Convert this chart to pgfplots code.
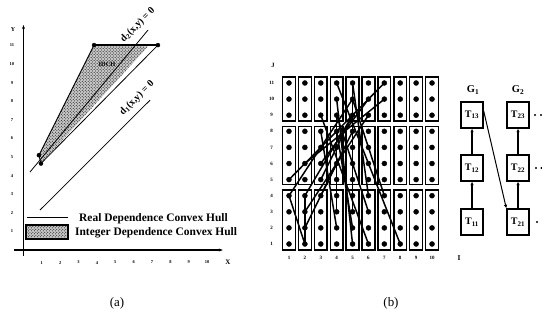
\documentclass[border=0pt]{standalone}
\usepackage{fontspec}
\setmainfont{Liberation Serif}
\usepackage{pgfplots}
\pgfplotsset{compat=1.18}
\usetikzlibrary{patterns,arrows.meta}
\pgfdeclareplotmark{boxlow}{\pgfpathrectangle{\pgfpoint{-6.4bp}{-30bp}}{\pgfpoint{12.8bp}{60bp}}\pgfusepath{stroke}}
\pgfdeclareplotmark{boxmid}{\pgfpathrectangle{\pgfpoint{-6.4bp}{-29bp}}{\pgfpoint{12.8bp}{58bp}}\pgfusepath{stroke}}
\pgfdeclareplotmark{boxtop}{\pgfpathrectangle{\pgfpoint{-6.4bp}{-22bp}}{\pgfpoint{12.8bp}{44bp}}\pgfusepath{stroke}}
\tikzset{dep/.style={black, line width=1.5pt, no marks}}
\begin{document}
\begin{tikzpicture}[x=1bp,y=1bp]
\path[use as bounding box] (0,0) rectangle (542,328);

% ---------------- (a) ----------------
\begin{axis}[at={(14.3bp,72.4bp)}, anchor=south west, scale only axis,
  width=208.5bp, height=230.6bp,
  xmin=-0.5, xmax=10.85, ymin=-0.3, ymax=12.1,
  axis lines=middle,
  axis line style={line width=1.1pt, -{Stealth[length=4pt,width=3pt]}},
  xtick={1,...,10}, ytick={1,...,11},
  major tick length=0,
  /pgf/number format/assume math mode=true,
  tick label style={font=\fontsize{4.5}{5}\selectfont\bfseries},
  xticklabel style={anchor=center, yshift=-12.5bp},
  yticklabel style={anchor=center, xshift=-11.5bp},
  clip=false]
  % integer dependence convex hull
  \addplot[fill=gray!45, draw=none] coordinates {(0.84,5.1) (3.84,11.02) (6.78,10.95) (0.95,4.65)} -- cycle;
  \addplot[pattern=crosshatch dots, draw=none] coordinates {(0.84,5.1) (3.84,11.02) (6.78,10.95) (0.95,4.65)} -- cycle;
  % real dependence convex hull
  \addplot[black, line width=0.9pt] coordinates {(0.84,5.1) (3.84,11.02)};
  \addplot[black, line width=1.7pt] coordinates {(3.84,11.02) (7.32,11.02)};
  \addplot[black, line width=0.8pt] coordinates {(7.32,11.02) (0.95,4.65) (0.84,5.1)};
  \addplot[only marks, mark=*, mark size=2bp, black] coordinates {(3.84,11.02) (7.32,11.02) (0.84,5.1) (0.95,4.65)};
  % d2 and d1 lines
  \addplot[black, line width=0.8pt] coordinates {(0.35,4.19) (6.78,11.83)};
  \addplot[black, line width=0.8pt] coordinates {(0.9,2.15) (6.89,8.06)};
  \node[rotate=45, font=\fontsize{10}{10}\selectfont\bfseries, inner sep=0pt] at (axis cs:6.23,12.1) {d\textsubscript{2}(x,y) = 0};
  \node[rotate=45, font=\fontsize{10}{10}\selectfont\bfseries, inner sep=0pt] at (axis cs:6.18,8.17) {d\textsubscript{1}(x,y) = 0};
  \node[font=\fontsize{6.5}{6.5}\selectfont\bfseries, inner sep=0pt] at (axis cs:4.55,10.0) {IDCH};
  % legend
  \draw[line width=1.2pt] (axis cs:0.19,1.77) -- (axis cs:2.42,1.77);
  \node[anchor=west, font=\fontsize{11.5}{12}\selectfont\bfseries, inner sep=0] at (axis cs:3.02,1.67) {Real Dependence Convex Hull};
  \draw[line width=1.5pt, fill=gray!45] (axis cs:0.14,0.59) rectangle (axis cs:2.42,1.34);
  \fill[pattern=crosshatch dots] (axis cs:0.14,0.59) rectangle (axis cs:2.42,1.34);
  \node[anchor=west, font=\fontsize{11.5}{12}\selectfont\bfseries, inner sep=0] at (axis cs:2.8,0.91) {Integer Dependence Convex Hull};
  \node[font=\fontsize{7}{7}\selectfont\bfseries] at (axis cs:11.13,-0.65) {X};
  \node[font=\fontsize{6}{6}\selectfont\bfseries] at (axis cs:-0.57,11.83) {Y};
\end{axis}

% ---------------- (b) ----------------
\begin{axis}[at={(273.1bp,67.9bp)}, anchor=south west, scale only axis,
  width=174.8bp, height=193.2bp,
  xmin=0, xmax=11, ymin=0, ymax=12,
  axis lines=left, axis line style={draw=none},
  xtick={1,...,10}, ytick={1,...,11},
  major tick length=0,
  /pgf/number format/assume math mode=true,
  tick label style={font=\fontsize{5}{5}\selectfont\bfseries},
  xticklabel style={anchor=center, yshift=2.1bp},
  yticklabel style={anchor=center, xshift=-1.4bp},
  clip=false]
  % boxes (groups of rows)
  \addplot[only marks, mark=boxlow, mark options={line width=1.4pt}] coordinates {(1,2.5)(2,2.5)(3,2.5)(4,2.5)(5,2.5)(6,2.5)(7,2.5)(8,2.5)(9,2.5)(10,2.5)};
  \addplot[only marks, mark=boxmid, mark options={line width=1.4pt}] coordinates {(1,6.5)(2,6.5)(3,6.5)(4,6.5)(5,6.5)(6,6.5)(7,6.5)(8,6.5)(9,6.5)(10,6.5)};
  \addplot[only marks, mark=boxtop, mark options={line width=1.4pt}] coordinates {(1,10)(2,10)(3,10)(4,10)(5,10)(6,10)(7,10)(8,10)(9,10)(10,10)};
  % iteration points
  \addplot[only marks, mark=*, mark size=2.5bp, black] coordinates {
   (1,1)(2,1)(3,1)(4,1)(5,1)(6,1)(7,1)(8,1)(9,1)(10,1)
   (1,2)(2,2)(3,2)(4,2)(5,2)(6,2)(7,2)(8,2)(9,2)(10,2)
   (1,3)(2,3)(3,3)(4,3)(5,3)(6,3)(7,3)(8,3)(9,3)(10,3)
   (1,4)(2,4)(3,4)(4,4)(5,4)(6,4)(7,4)(8,4)(9,4)(10,4)
   (1,5)(2,5)(3,5)(4,5)(5,5)(6,5)(7,5)(8,5)(9,5)(10,5)
   (1,6)(2,6)(3,6)(4,6)(5,6)(6,6)(7,6)(8,6)(9,6)(10,6)
   (1,7)(2,7)(3,7)(4,7)(5,7)(6,7)(7,7)(8,7)(9,7)(10,7)
   (1,8)(2,8)(3,8)(4,8)(5,8)(6,8)(7,8)(8,8)(9,8)(10,8)
   (1,9)(2,9)(3,9)(4,9)(5,9)(6,9)(7,9)(8,9)(9,9)(10,9)
   (1,10)(2,10)(3,10)(4,10)(5,10)(6,10)(7,10)(8,10)(9,10)(10,10)
   (1,11)(2,11)(3,11)(4,11)(5,11)(6,11)(7,11)(8,11)(9,11)(10,11)};
  % dependences
  \addplot[dep] coordinates {(1,5) (7,11)};
  \addplot[dep] coordinates {(2,6) (7,10)};
  \addplot[dep] coordinates {(1,4) (5,10)};
  \addplot[dep] coordinates {(2,4) (5,9)};
  \addplot[dep] coordinates {(2,3) (6,9)};
  \addplot[dep] coordinates {(2,2) (4,6)};
  \addplot[dep] coordinates {(3,5) (5,9)};
  \addplot[dep] coordinates {(3,6) (6,10)};
  \addplot[dep] coordinates {(3,4) (5,8)};
  \addplot[dep] coordinates {(1,4) (2,1)};
  \addplot[dep] coordinates {(4,11) (8,1)};
  \addplot[dep] coordinates {(3,9) (6,1)};
  \addplot[dep] coordinates {(4,10) (5,1)};
  \addplot[dep] coordinates {(5,11) (6,4)};
  \addplot[dep] coordinates {(4,9) (4,3)};
  \addplot[dep] coordinates {(3,8) (4,2)};
  \addplot[dep] coordinates {(5,9) (5,3)};
  \addplot[dep] coordinates {(4,8) (5,2)};
  \addplot[dep] coordinates {(2,4) (2,1)};
  \addplot[dep] coordinates {(5,10) (7,4)};
  \addplot[dep] coordinates {(5,11) (5,5)};
  \addplot[dep] coordinates {(4,9) (6,3)};
  \node[font=\fontsize{6.5}{6.5}\selectfont\bfseries] at (axis cs:0,12.1) {J};
  \node[font=\fontsize{7.5}{7.5}\selectfont\bfseries] at (axis cs:11.7,0.13) {I};
\end{axis}

% ---------------- task graph ----------------
\begin{axis}[at={(440bp,0bp)}, anchor=south west, scale only axis,
  width=102bp, height=328bp, xmin=440, xmax=542, ymin=0, ymax=328,
  hide axis, clip=false]
  \begin{scope}[every node/.style={draw, line width=1.4pt, minimum width=22bp, minimum height=26bp, inner sep=0pt, font=\fontsize{10}{10}\selectfont\bfseries}]
  \node (t13) at (axis cs:472,213) {T\textsubscript{13}};
  \node (t12) at (axis cs:472,160) {T\textsubscript{12}};
  \node (t11) at (axis cs:472,106) {T\textsubscript{11}};
  \node (t23) at (axis cs:518,213) {T\textsubscript{23}};
  \node (t22) at (axis cs:518,160) {T\textsubscript{22}};
  \node (t21) at (axis cs:518,106) {T\textsubscript{21}};
  \end{scope}
  \draw[line width=1.2pt, -{Latex[length=3.5pt,width=3.5pt]}] (t11) -- (t12);
  \draw[line width=1.2pt, -{Latex[length=3.5pt,width=3.5pt]}] (t12) -- (t13);
  \draw[line width=1.2pt, -{Latex[length=3.5pt,width=3.5pt]}] (t21) -- (t22);
  \draw[line width=1.2pt, -{Latex[length=3.5pt,width=3.5pt]}] (t22) -- (t23);
  \draw[line width=1pt, -{Latex[length=3.5pt,width=3.5pt]}] ([yshift=4bp]t13.east) -- (t21.north west);
  \fill (axis cs:535,213) circle (1.2bp);
  \fill (axis cs:541,213) circle (1.2bp);
  \fill (axis cs:536,160) circle (1.2bp);
  \fill (axis cs:541.5,160) circle (1.2bp);
  \fill (axis cs:537,106) circle (1.2bp);
  \node[font=\fontsize{10.5}{10.5}\selectfont\bfseries] at (axis cs:473,238) {G\textsubscript{1}};
  \node[font=\fontsize{10.5}{10.5}\selectfont\bfseries] at (axis cs:518,238) {G\textsubscript{2}};
\end{axis}

\node[font=\fontsize{13}{13}\selectfont] at (117,25) {(a)};
\node[font=\fontsize{13}{13}\selectfont] at (391,25) {(b)};
\end{tikzpicture}
\end{document}
